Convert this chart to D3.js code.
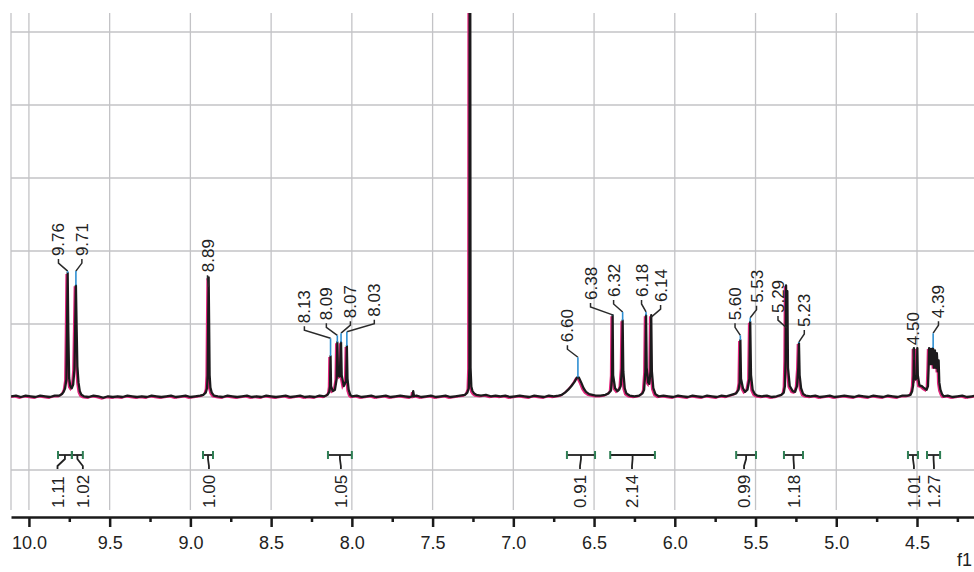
<!DOCTYPE html>
<html>
<head>
<meta charset="utf-8">
<script src="https://cdn.jsdelivr.net/npm/d3@7"></script>
<style>
body { margin: 0; background: #fff; }
svg { display: block; font-family: "Liberation Sans", Arial, sans-serif; }
</style>
</head>
<body>
<div id="chart"></div>
<script>
// traced spectrum: [ppm, intensity] (1 unit = one grid row)
var spectrum = [
  [10.11,0.01],[10.08,0.02],[10.05,0.00],[10.02,0.02],[9.99,0.01],[9.96,0.00],[9.93,0.02],[9.90,0.01],[9.87,0.00],[9.84,0.02],[9.81,0.02],
  [9.795,0.04],[9.785,0.07],[9.776,0.12],[9.768,0.24],[9.764,0.9],[9.760,1.70],[9.756,0.9],[9.751,0.26],[9.744,0.15],[9.735,0.12],[9.726,0.17],[9.718,0.38],[9.713,1.0],[9.709,1.53],[9.705,1.0],[9.700,0.42],[9.693,0.2],[9.685,0.08],[9.675,0.03],[9.66,0.01],
  [9.63,0.00],[9.60,0.02],[9.57,0.01],[9.54,-0.01],[9.51,0.01],[9.48,0.00],[9.45,0.01],[9.42,0.00],[9.39,0.02],[9.36,0.01],[9.33,0.00],[9.30,0.01],[9.27,0.00],[9.24,0.02],[9.21,0.01],[9.18,0.00],[9.15,0.01],[9.12,0.02],[9.09,0.00],[9.06,0.01],[9.03,0.02],[9.00,0.00],[8.97,0.01],[8.94,0.02],
  [8.92,0.03],[8.905,0.06],[8.897,0.12],[8.893,0.3],[8.890,1.0],[8.887,1.64],[8.884,1.0],[8.881,0.3],[8.876,0.13],[8.868,0.06],[8.855,0.02],
  [8.83,0.01],[8.80,0.00],[8.77,0.02],[8.74,0.01],[8.71,0.00],[8.68,0.01],[8.65,0.02],[8.62,0.00],[8.59,0.01],[8.56,0.00],[8.53,0.02],[8.50,0.01],[8.47,0.00],[8.44,0.01],[8.41,0.02],[8.38,0.00],[8.35,0.01],[8.32,0.02],[8.29,0.00],[8.26,0.01],[8.23,0.00],[8.20,0.02],[8.17,0.01],
  [8.15,0.03],[8.14,0.07],[8.135,0.15],[8.132,0.56],[8.129,0.15],[8.118,0.08],[8.105,0.1],[8.094,0.25],[8.090,0.75],[8.086,0.3],[8.075,0.28],[8.067,0.75],[8.063,0.3],[8.050,0.15],[8.035,0.22],[8.031,0.70],[8.027,0.25],[8.02,0.1],[8.01,0.03],[8.00,0.01],
  [7.97,0.02],[7.94,0.00],[7.91,0.01],[7.88,0.02],[7.85,0.00],[7.82,0.01],[7.79,0.02],[7.76,0.00],[7.73,0.01],[7.70,0.02],[7.67,0.01],[7.64,0.00],[7.625,0.01],[7.62,0.08],[7.615,0.01],[7.60,0.02],[7.57,0.00],[7.54,0.01],[7.51,0.02],[7.48,0.00],[7.45,0.01],[7.42,0.02],[7.39,0.00],[7.36,0.01],[7.33,0.02],[7.30,0.03],
  [7.285,0.06],[7.276,0.12],[7.272,0.4],[7.270,6.5],[7.267,6.5],[7.265,0.4],[7.260,0.14],[7.253,0.08],[7.243,0.05],[7.23,0.03],
  [7.20,0.02],[7.17,0.03],[7.14,0.01],[7.11,0.02],[7.08,0.01],[7.05,0.02],[7.02,0.00],[6.99,0.01],[6.96,0.02],[6.93,0.01],[6.90,0.00],[6.87,0.02],[6.84,0.01],[6.81,0.00],[6.78,0.02],[6.75,0.01],[6.72,0.02],
  [6.70,0.03],[6.68,0.06],[6.66,0.1],[6.64,0.15],[6.62,0.21],[6.605,0.27],[6.595,0.27],[6.58,0.2],[6.565,0.12],[6.55,0.07],[6.53,0.04],[6.51,0.03],[6.49,0.02],[6.46,0.02],[6.43,0.03],[6.41,0.05],
  [6.395,0.09],[6.388,0.3],[6.385,1.12],[6.382,0.3],[6.37,0.12],[6.355,0.08],[6.345,0.1],[6.335,0.15],[6.327,0.4],[6.323,1.05],[6.319,0.35],[6.31,0.12],[6.30,0.05],[6.28,0.02],[6.25,0.01],[6.22,0.02],[6.20,0.05],
  [6.19,0.1],[6.182,0.35],[6.178,1.12],[6.174,0.4],[6.165,0.2],[6.158,0.18],[6.150,0.35],[6.146,1.12],[6.142,0.35],[6.133,0.12],[6.12,0.04],[6.10,0.01],
  [6.07,0.02],[6.04,0.01],[6.01,0.00],[5.98,0.02],[5.95,0.01],[5.92,0.00],[5.89,0.02],[5.86,0.01],[5.83,0.00],[5.80,0.02],[5.77,0.01],[5.74,0.00],[5.71,0.02],[5.68,0.01],[5.65,0.03],
  [5.62,0.05],[5.605,0.1],[5.598,0.2],[5.594,0.78],[5.590,0.25],[5.578,0.12],[5.565,0.07],[5.55,0.1],[5.538,0.25],[5.533,1.03],[5.528,0.3],[5.518,0.1],[5.505,0.04],[5.49,0.02],
  [5.46,0.01],[5.43,0.02],[5.40,0.00],[5.37,0.01],[5.34,0.03],
  [5.325,0.06],[5.318,0.15],[5.314,0.5],[5.311,1.53],[5.307,0.7],[5.303,1.45],[5.299,0.4],[5.288,0.15],[5.27,0.08],[5.255,0.07],[5.243,0.15],[5.235,0.4],[5.231,0.74],[5.227,0.3],[5.218,0.12],[5.205,0.04],[5.19,0.02],
  [5.16,0.01],[5.13,0.02],[5.10,0.00],[5.07,0.01],[5.04,0.02],[5.01,0.00],[4.98,0.01],[4.95,0.02],[4.92,0.01],[4.89,0.00],[4.86,0.02],[4.83,0.01],[4.80,0.00],[4.77,0.02],[4.74,0.01],[4.71,0.00],[4.68,0.02],[4.65,0.01],[4.62,0.00],[4.59,0.02],[4.56,0.02],
  [4.54,0.03],[4.53,0.08],[4.524,0.16],[4.521,0.3],[4.519,0.67],[4.516,0.3],[4.508,0.24],[4.501,0.3],[4.498,0.67],[4.495,0.3],[4.485,0.16],[4.47,0.15],[4.455,0.12],[4.44,0.1],
  [4.432,0.15],[4.428,0.4],[4.425,0.67],[4.419,0.45],[4.413,0.66],[4.407,0.45],[4.401,0.67],[4.395,0.4],[4.389,0.64],[4.383,0.4],[4.377,0.6],[4.371,0.35],[4.366,0.5],[4.362,0.2],[4.355,0.1],[4.345,0.04],[4.335,0.01],
  [4.31,0.02],[4.28,0.00],[4.25,0.01],[4.22,0.02],[4.19,0.00],[4.16,0.01],[4.13,0.02],[4.10,0.01]
];

// peak picking labels
var peakLabels = ["9.76","9.71","8.89","8.13","8.09","8.07","8.03","6.60","6.38","6.32","6.18","6.14","5.60","5.53","5.29","5.23","4.50","4.39"];
var peakPpm    = [9.760, 9.709, 8.887, 8.132, 8.090, 8.067, 8.031, 6.600, 6.385, 6.323, 6.178, 6.146, 5.594, 5.533, 5.307, 5.231, 4.519, 4.40];
var peakTop    = [1.70, 1.53, 1.64, 0.56, 0.75, 0.75, 0.70, 0.27, 1.12, 1.05, 1.12, 1.12, 0.78, 1.03, 1.50, 0.74, 0.67, 0.67];
var labelPpm   = [9.817, 9.672, 8.894, 8.294, 8.158, 8.009, 7.861, 6.665, 6.522, 6.379, 6.206, 6.088, 5.627, 5.494, 5.361, 5.198, 4.522, 4.367];
var labelBase  = [1.93, 1.93, 1.71, 1.01, 1.05, 1.08, 1.10, 0.75, 1.33, 1.37, 1.37, 1.30, 1.05, 1.29, 1.15, 0.96, 0.71, 1.08];

// integrals
var integralLabels = ["1.11","1.02","1.00","1.05","0.91","2.14","0.99","1.18","1.01","1.27"];
var integralFrom   = [9.82, 9.734, 8.922, 8.148, 6.668, 6.40, 5.62, 5.324, 4.556, 4.438];
var integralTo     = [9.734, 9.666, 8.86, 8.0, 6.494, 6.123, 5.497, 5.206, 4.494, 4.357];
var integralAt     = [9.823, 9.666, 8.885, 8.068, 6.587, 6.265, 5.571, 5.262, 4.519, 4.395];

var majorTicks = [10.0, 9.5, 9.0, 8.5, 8.0, 7.5, 7.0, 6.5, 6.0, 5.5, 5.0, 4.5];
var minorTicks = [9.75, 9.25, 8.75, 8.25, 7.75, 7.25, 6.75, 6.25, 5.75, 5.25, 4.75, 4.25];
var rowTicks = [-1, 0, 1, 2, 3, 4, 5];

var width = 974, height = 572;
var plotLeft = 11, plotTop = 13, axisY = 517, gridBottom = 510;

var svg = d3.select('#chart')
    .append('svg')
    .attr('width', width)
    .attr('height', height);

svg.append('rect').attr('width', width).attr('height', height).attr('fill', '#fff');

var x = d3.scaleLinear().domain([10.111, 4.147]).range([plotLeft, width]);
var y = d3.scaleLinear().domain([0, 5]).range([397, 32]);

// grid
var grid = svg.append('g').style('stroke', '#c3c3c6').style('stroke-width', 1.3);
grid.selectAll('.vg')
    .data(majorTicks)
    .enter()
    .append('line')
    .attr('x1', function(d) { return x(d); })
    .attr('x2', function(d) { return x(d); })
    .attr('y1', plotTop)
    .attr('y2', gridBottom);
grid.append('line')
    .attr('x1', plotLeft).attr('x2', plotLeft)
    .attr('y1', plotTop).attr('y2', gridBottom);
grid.selectAll('.hg')
    .data(rowTicks)
    .enter()
    .append('line')
    .attr('x1', plotLeft)
    .attr('x2', width)
    .attr('y1', function(d) { return y(d); })
    .attr('y2', function(d) { return y(d); });

svg.append('clipPath').attr('id', 'plotclip')
    .append('rect')
    .attr('x', plotLeft).attr('y', plotTop)
    .attr('width', width - plotLeft).attr('height', axisY - plotTop);

var line = d3.line()
    .x(function(d) { return x(d[0]); })
    .y(function(d) { return y(d[1]); });

var plot = svg.append('g').attr('clip-path', 'url(#plotclip)');

plot.append('path')
    .datum(spectrum)
    .attr('d', line)
    .attr('transform', 'translate(-1.4,1)')
    .style('fill', 'none')
    .style('stroke', '#e3247c')
    .style('stroke-width', 1.8);

plot.append('path')
    .datum(spectrum)
    .attr('d', line)
    .style('fill', 'none')
    .style('stroke', '#1c1a1c')
    .style('stroke-width', 2.3)
    .style('stroke-linejoin', 'round');

// peak labels with leaders
var peaks = peakLabels.map(function(t, i) {
    return { text: t, ppm: peakPpm[i], top: peakTop[i], at: labelPpm[i], base: labelBase[i] };
});

var lg = svg.append('g');
peaks.forEach(function(p) {
    var lx = x(p.at), tb = y(p.base), px = x(p.ppm), pt = y(p.top);
    var elbow = tb + 15;
    lg.append('path')
        .attr('d', d3.line()([[lx, tb + 3], [lx, tb + 7], [px, elbow]]))
        .style('fill', 'none')
        .style('stroke', '#2a2a2a')
        .style('stroke-width', 1.5);
    if (pt > elbow) {
        lg.append('line')
            .attr('x1', px).attr('x2', px)
            .attr('y1', elbow).attr('y2', pt)
            .style('stroke', '#2f8fd2')
            .style('stroke-width', 1.6);
    }
    lg.append('text')
        .attr('transform', 'translate(' + (lx + 6) + ',' + tb + ') rotate(-90)')
        .style('font-size', '17px')
        .style('fill', '#222')
        .text(p.text);
});

// integrals
var ig = svg.append('g');
var barY = 455;
integralLabels.forEach(function(t, i) {
    var x1 = x(integralFrom[i]), x2 = x(integralTo[i]), mid = (x1 + x2) / 2, lx = x(integralAt[i]);
    ig.append('line')
        .attr('x1', x1).attr('x2', x2)
        .attr('y1', barY).attr('y2', barY)
        .style('stroke', '#222').style('stroke-width', 1.8);
    [x1, x2].forEach(function(cx) {
        ig.append('line')
            .attr('x1', cx).attr('x2', cx)
            .attr('y1', barY - 4).attr('y2', barY + 4)
            .style('stroke', '#2f7f55').style('stroke-width', 2);
    });
    ig.append('path')
        .attr('d', d3.line()([[mid, barY], [mid, barY + 4], [lx, barY + 11], [lx, barY + 14]]))
        .style('fill', 'none')
        .style('stroke', '#222')
        .style('stroke-width', 1.8);
    ig.append('text')
        .attr('transform', 'translate(' + (lx + 6) + ',508) rotate(-90)')
        .style('font-size', '17px')
        .style('fill', '#222')
        .text(t);
});

// axis
var axis = d3.axisBottom(x)
    .tickValues(majorTicks)
    .tickFormat(d3.format('.1f'))
    .tickSize(10)
    .tickSizeOuter(0)
    .tickPadding(9);

var ax = svg.append('g')
    .attr('transform', 'translate(0,' + axisY + ')')
    .call(axis);
ax.select('.domain').style('stroke', '#1a1a1a').style('stroke-width', 2.5);
ax.selectAll('.tick line').style('stroke', '#1a1a1a').style('stroke-width', 2.5);
ax.selectAll('.tick text')
    .style('font-size', '18px')
    .style('font-family', '"Liberation Sans", Arial, sans-serif')
    .style('fill', '#222');

var minor = svg.append('g')
    .attr('transform', 'translate(0,' + axisY + ')')
    .call(d3.axisBottom(x).tickValues(minorTicks).tickFormat('').tickSize(5).tickSizeOuter(0));
minor.select('.domain').remove();
minor.selectAll('.tick line').style('stroke', '#1a1a1a').style('stroke-width', 2.5);

svg.append('text')
    .attr('x', 957)
    .attr('y', 566)
    .style('font-size', '18px')
    .style('fill', '#222')
    .text('f1');
</script>
</body>
</html>
